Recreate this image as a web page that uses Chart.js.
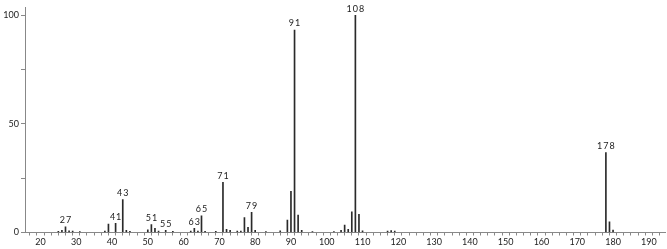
<!DOCTYPE html>
<html>
<head>
<meta charset="utf-8">
<script src="https://cdn.jsdelivr.net/npm/chart.js@4/dist/chart.umd.min.js"></script>
<style>
    html, body { margin: 0; padding: 0; background: #fff; }
</style>
</head>
<body>
<canvas id="msChart" width="667" height="249"></canvas>
<script>
// m/z and relative intensity
const mz = [25, 26, 27, 28, 29, 31, 38, 39, 41, 43, 44, 45, 50, 51, 52, 53, 55, 57, 62, 63, 64, 65, 66, 69,
    71, 72, 73, 75, 76, 77, 78, 79, 80, 83, 87, 89, 90, 91, 92, 93, 96, 102, 104, 105, 106, 107, 108, 109, 110,
    117, 118, 119, 178, 179, 180];
const intensity = [0.5, 1, 2.6, 0.8, 0.7, 0.4, 0.6, 3.9, 4.2, 15.1, 1, 0.5, 1.2, 3.7, 1.9, 0.6, 1, 0.5, 0.6, 1.9, 0.7, 7.7, 0.5, 0.5,
    23.1, 1.5, 1, 0.6, 0.6, 6.9, 2.4, 9.3, 1, 0.4, 0.8, 5.7, 18.9, 93.2, 8.0, 1, 0.4, 0.4, 1, 3.4, 1.5, 9.5, 100, 8.4, 0.8,
    0.7, 0.9, 0.6, 36.8, 4.9, 1.1];
const labelledPeaks = [27, 41, 43, 51, 55, 63, 65, 71, 79, 91, 108, 178];
const yTicks = [0, 50, 100];

const peakLabels = {
    id: 'peakLabels',
    afterDatasetsDraw(chart) {
        const ctx = chart.ctx;
        const xs = chart.scales.x, ys = chart.scales.y;
        ctx.save();
        ctx.font = '9px Lato';
        ctx.letterSpacing = '1px';
        ctx.fillStyle = '#222';
        ctx.textAlign = 'center';
        ctx.textBaseline = 'bottom';
        labelledPeaks.forEach(m => {
            const i = mz.indexOf(m);
            ctx.fillText(String(m), xs.getPixelForValue(m) + 0.5, ys.getPixelForValue(intensity[i]) - 2);
        });
        ctx.restore();
    }
};

const ctx = document.getElementById('msChart').getContext('2d');
const msChart = new Chart(ctx, {
    type: 'bar',
    data: {
        datasets: [{
            data: mz.map((m, i) => ({ x: m, y: intensity[i] })),
            backgroundColor: '#2a2a2a',
            borderWidth: 0,
            barThickness: 1
        }]
    },
    options: {
        responsive: false,
        animation: false,
        devicePixelRatio: 1,
        layout: { padding: { top: 5, right: 2, left: 0, bottom: 0 } },
        plugins: { legend: { display: false }, tooltip: { enabled: false } },
        scales: {
            x: {
                type: 'linear',
                min: 16.7,
                max: 193.5,
                afterBuildTicks: axis => {
                    const t = [];
                    for (let v = 18; v <= 192; v += 2) t.push({ value: v });
                    axis.ticks = t;
                },
                afterFit: axis => { axis.height = 16.5; },
                border: { color: '#888', width: 1 },
                grid: { drawOnChartArea: false, tickLength: 3, color: '#888' },
                ticks: {
                    autoSkip: false,
                    maxRotation: 0,
                    padding: 1,
                    color: '#222',
                    font: { family: 'Lato', size: 9 },
                    callback: v => (v % 10 === 0 ? String(v) : '')
                }
            },
            y: {
                min: 0,
                max: 103.6,
                afterBuildTicks: axis => {
                    axis.ticks = [0, 25, 50, 75, 100].map(v => ({ value: v }));
                },
                afterFit: axis => { axis.width = 25; },
                border: { color: '#888', width: 1 },
                grid: { drawOnChartArea: false, tickLength: 4, color: '#888' },
                ticks: {
                    padding: 2,
                    color: '#222',
                    font: { family: 'Lato', size: 9 },
                    callback: v => (yTicks.includes(v) ? String(v) : '')
                }
            }
        }
    },
    plugins: [peakLabels]
});
</script>
</body>
</html>
